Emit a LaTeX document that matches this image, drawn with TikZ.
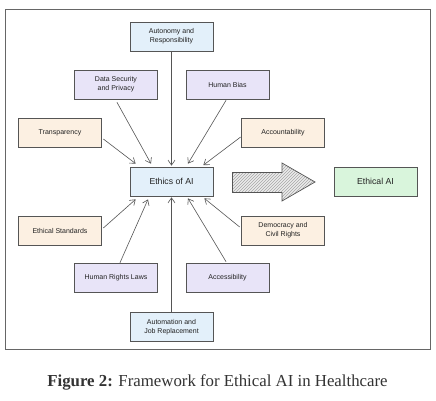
\documentclass[tikz,border=0pt]{standalone}
\usepackage{fontspec}
\setmainfont{Liberation Serif}
\setsansfont{Liberation Sans}
\usetikzlibrary{arrows.meta,calc,patterns}
\definecolor{cblue}{HTML}{E3F0FA}
\definecolor{cpurple}{HTML}{E8E4F8}
\definecolor{corange}{HTML}{FCF0E2}
\definecolor{cgreen}{HTML}{D9F5DC}
\definecolor{cline}{HTML}{555555}
\definecolor{ctext}{HTML}{222222}
\tikzset{
  box/.style={draw=cline, line width=0.7pt, minimum width=83pt, minimum height=29pt,
    inner sep=0pt, align=center, text=ctext,
    font=\sffamily\fontsize{7}{9}\selectfont},
  bigbox/.style={box, font=\sffamily\fontsize{8.7}{10}\selectfont},
  conn/.style={draw=cline, line width=0.6pt, -{Straight Barb[length=5pt,width=7pt]}},
}
\begin{document}
\begin{tikzpicture}[x=1pt,y=-1pt]
\useasboundingbox (0,0) rectangle (436,401);
\fill[white] (0,0) rectangle (436,401);
\draw[draw=cline!90, line width=0.8pt] (5,9) rectangle (430.5,349);

\node[box, fill=cblue]   (aut)  at (171.5,36.5) {Autonomy and\\Responsibility};
\node[box, fill=cpurple] (ds)   at (116,84.5)   {Data Security\\and Privacy};
\node[box, fill=cpurple] (hb)   at (227.5,84.5) {Human Bias};
\node[box, fill=corange] (tr)   at (60,133)     {Transparency};
\node[box, fill=corange] (acc)  at (283,133)    {Accountability};
\node[bigbox, fill=cblue] (eth) at (171.5,181.5) {Ethics of AI};
\node[bigbox, fill=cgreen] (eai) at (375.5,181.5) {Ethical AI};
\node[box, fill=corange] (es)   at (60,230.5)   {Ethical Standards};
\node[box, fill=corange] (dem)  at (283,230.5)  {Democracy and\\Civil Rights};
\node[box, fill=cpurple] (hr)   at (116,278)    {Human Rights Laws};
\node[box, fill=cpurple] (acs)  at (227.5,278)  {Accessibility};
\node[box, fill=cblue]   (aut2) at (171.5,327)  {Automation and\\Job Replacement};

% big arrow
\path[fill=black!8] (232.5,172.5) -- (282,172.5) -- (282,163) -- (315,182) -- (282,201) -- (282,192.5) -- (232.5,192.5) -- cycle;
\path[pattern=north east lines, pattern color=black!35] (232.5,172.5) -- (282,172.5) -- (282,163) -- (315,182) -- (282,201) -- (282,192.5) -- (232.5,192.5) -- cycle;
\draw[cline, line width=0.7pt, line join=miter] (232.5,172.5) -- (282,172.5) -- (282,163) -- (315,182) -- (282,201) -- (282,192.5) -- (232.5,192.5) -- cycle;

% connectors
\draw[conn] (aut.south) -- ($(eth.north)+(0,-1)$);
\draw[conn] ($(ds.south)+(1,3)$) -- ($(eth.north)+(-20.5,-3)$);
\draw[conn] ($(hb.south)+(-1.5,1)$) -- ($(eth.north)+(16.5,-3)$);
\draw[conn] ($(tr.east)+(1.5,6)$) -- ($(eth.north west)+(6,-3)$);
\draw[conn] ($(acc.west)+(-0.5,4)$) -- ($(eth.north east)+(-10,-1.5)$);
\draw[conn] ($(es.east)+(1.5,-2.5)$) -- ($(eth.south west)+(6,3)$);
\draw[conn] ($(hr.north)+(4,-0.5)$) -- ($(eth.south)+(-23.5,3)$);
\draw[conn] (aut2.north) -- ($(eth.south)+(0,1)$);
\draw[conn] ($(acs.north)+(-1.5,-1.5)$) -- ($(eth.south)+(16.5,2)$);
\draw[conn] ($(dem.west)+(-1.5,-3.5)$) -- ($(eth.south east)+(-9,2)$);

\node[font=\fontsize{16.8}{20}\selectfont, text=black!80, anchor=base] (cap) at (217.5,386)
  {\textbf{Figure 2:} Framework for Ethical AI in Healthcare};
\end{tikzpicture}
\end{document}
